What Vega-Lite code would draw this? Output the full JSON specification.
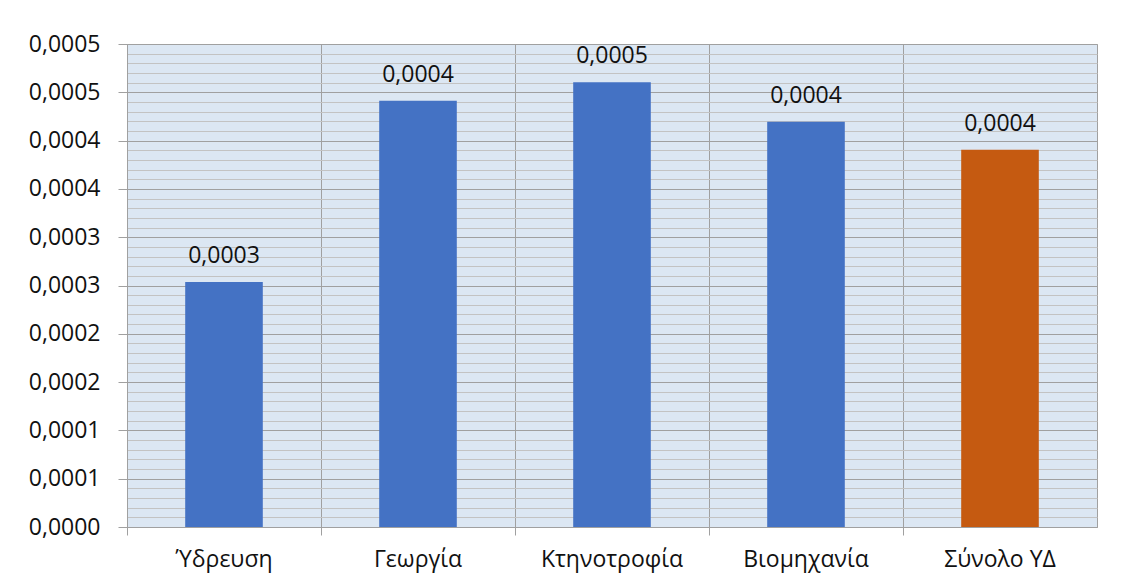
{
  "$schema": "https://vega.github.io/schema/vega-lite/v6.json",
  "width": 970,
  "height": 483,
  "autosize": {"type": "none"},
  "padding": {"left": 127, "top": 44, "right": 33, "bottom": 54},
  "background": "white",
  "data": {
    "values": [
      {"cat": "Ύδρευση", "value": 0.0002536, "group": "sector"},
      {"cat": "Γεωργία", "value": 0.0004413, "group": "sector"},
      {"cat": "Κτηνοτροφία", "value": 0.0004603, "group": "sector"},
      {"cat": "Βιομηχανία", "value": 0.0004196, "group": "sector"},
      {"cat": "Σύνολο ΥΔ", "value": 0.0003906, "group": "total"}
    ]
  },
  "config": {
    "view": {"fill": "#dce7f3", "stroke": "#a0a0a0", "strokeWidth": 1},
    "font": "Open Sans",
    "axis": {"labelFont": "Open Sans", "labelFontSize": 23, "labelColor": "#111111"}
  },
  "encoding": {
    "x": {
      "field": "cat", "type": "nominal", "sort": null,
      "scale": {"paddingInner": 0, "paddingOuter": 0},
      "axis": {
        "title": null, "labelAngle": 0, "bandPosition": 0,
        "grid": true, "gridColor": "#a0a0a0", "gridWidth": 1,
        "domainColor": "#a0a0a0", "tickColor": "#a0a0a0", "tickSize": 8,
        "labelPadding": 13
      }
    },
    "y": {
      "field": "value", "type": "quantitative",
      "scale": {"domain": [0, 0.0005], "nice": false}
    }
  },
  "layer": [
    {
      "mark": {"type": "bar", "width": {"band": 0.4}},
      "encoding": {
        "y": {
          "field": "value", "type": "quantitative",
          "axis": {
            "orient": "left", "title": null,
            "values": [0, 0.00005, 0.0001, 0.00015, 0.0002, 0.00025, 0.0003, 0.00035, 0.0004, 0.00045, 0.0005],
            "labelExpr": "replace(format(round(datum.value*10000+0.25)/10000, '.4f'), '.', ',')",
            "grid": true, "gridColor": "#a0a0a0", "gridWidth": 1,
            "domainColor": "#a0a0a0", "tickColor": "#a0a0a0", "tickSize": 9,
            "labelPadding": 18
          }
        },
        "color": {
          "field": "group", "type": "nominal",
          "scale": {"domain": ["sector", "total"], "range": ["#4472c4", "#c55a11"]},
          "legend": null
        }
      }
    },
    {
      "mark": {"type": "text", "baseline": "alphabetic", "dy": -19, "fontSize": 23, "font": "Open Sans", "color": "#111111",
        "text": {"expr": "replace(format(datum.value, '.4f'), '.', ',')"}},
      "encoding": {
        "y": {
          "field": "value", "type": "quantitative",
          "axis": {
            "orient": "right", "title": null, "labels": false, "ticks": false, "domain": false,
            "values": [0.00001, 0.00002, 0.00003, 0.00004, 0.00006, 0.00007, 0.00008, 0.00009, 0.00011, 0.00012, 0.00013, 0.00014, 0.00016, 0.00017, 0.00018, 0.00019, 0.00021, 0.00022, 0.00023, 0.00024, 0.00026, 0.00027, 0.00028, 0.00029, 0.00031, 0.00032, 0.00033, 0.00034, 0.00036, 0.00037, 0.00038, 0.00039, 0.00041, 0.00042, 0.00043, 0.00044, 0.00046, 0.00047, 0.00048, 0.00049],
            "grid": true, "gridColor": "#c3c3c3", "gridWidth": 1
          }
        }
      }
    }
  ],
  "resolve": {"axis": {"y": "independent"}}
}
